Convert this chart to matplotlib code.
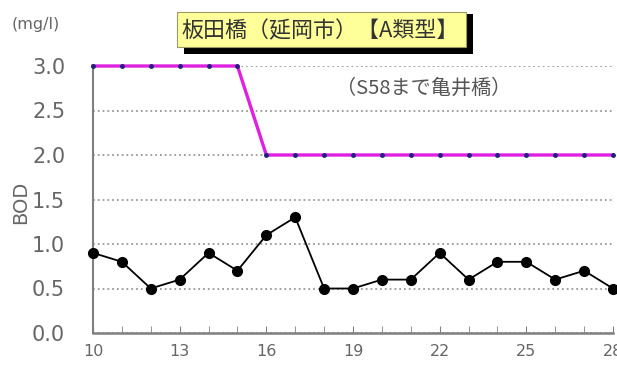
import matplotlib.pyplot as plt
from matplotlib.patches import Rectangle

plt.rcParams['font.family'] = ['Noto Sans CJK JP', 'DejaVu Sans']

# years (Showa) and BOD values
years = list(range(10, 29))
bod = [0.9, 0.8, 0.5, 0.6, 0.9, 0.7, 1.1, 1.3, 0.5, 0.5,
       0.6, 0.6, 0.9, 0.6, 0.8, 0.8, 0.6, 0.7, 0.5]
standard = [3.0] * 6 + [2.0] * 13
yticks = [0.0, 0.5, 1.0, 1.5, 2.0, 2.5, 3.0]
xticks = [10, 13, 16, 19, 22, 25, 28]

W, H = 617, 365
fig = plt.figure(figsize=(W / 100, H / 100), dpi=100)
ax = fig.add_axes([93 / W, 1 - 333 / H, 520 / W, 267 / H])

ax.plot(years, standard, color='#e020e0', lw=2.4, marker='o', ms=2.5,
        mfc='#202080', mec='#202080', clip_on=False, zorder=3)
ax.plot(years, bod, color='black', lw=1.3, marker='o', ms=7,
        clip_on=False, zorder=4)

ax.set_xlim(10, 28)
ax.set_ylim(0, 3.0)
ax.set_yticks(yticks)
ax.set_yticklabels([f'{v:.1f}' for v in yticks], family='DejaVu Sans')
ax.set_xticks(xticks)
ax.set_xticklabels([str(v) for v in xticks], family='DejaVu Sans')
ax.set_xticks(years, minor=True)
ax.tick_params(axis='x', which='both', direction='in', length=5, color='#808080',
               labelsize=11.5, labelcolor='#666666', pad=8)
ax.tick_params(axis='y', length=0, labelsize=15, labelcolor='#666666', pad=20)

ax.grid(axis='y', color='#999999', ls=':', lw=1.3)
for s in ['top', 'right']:
    ax.spines[s].set_visible(False)
ax.spines['left'].set_color('#808080')
ax.spines['left'].set_linewidth(1.5)
ax.spines['bottom'].set_color('#808080')
ax.spines['bottom'].set_linewidth(1.8)

ax.set_ylabel('BOD', fontsize=14, color='#666666', family='DejaVu Sans')
ax.yaxis.set_label_coords(-0.121, 0.49)

fig.text(12 / W, 1 - 25 / H, '(mg/l)', fontsize=11.5, color='#666666', va='center',
         family='DejaVu Sans')

# title box with black shadow
fig.patches.append(Rectangle((184 / W, 1 - 54 / H), 289 / W, 40 / H,
                             transform=fig.transFigure, fc='black', ec='none'))
fig.patches.append(Rectangle((177 / W, 1 - 47 / H), 289 / W, 35 / H,
                             transform=fig.transFigure, fc='#ffff99', ec='#999966', lw=0.8))
fig.text(181 / W, 1 - 31 / H, '板田橋（延岡市）【A類型】', fontsize=15.8, color='#333333',
         va='center')

ax.text(21.45, 2.75, '（S58まで亀井橋）', fontsize=14.5, color='#555555',
        ha='center', va='center')

fig.savefig('out.png', dpi=100)
